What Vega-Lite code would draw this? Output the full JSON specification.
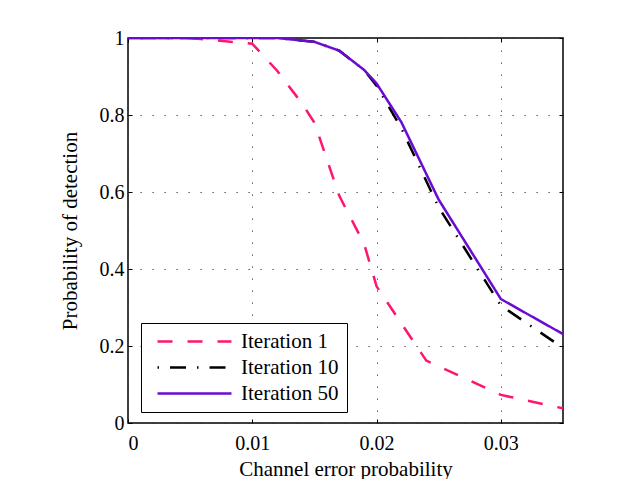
{
  "$schema": "https://vega.github.io/schema/vega-lite/v6.json",
  "autosize": {"type": "none"},
  "padding": {"left": 128, "top": 38, "right": 67, "bottom": 56},
  "width": 435,
  "height": 385,
  "background": "white",
  "config": {
    "font": "Liberation Serif, Times New Roman, serif",
    "view": {"stroke": "black", "strokeWidth": 1.5},
    "axis": {
      "labelFont": "Liberation Serif, Times New Roman, serif",
      "titleFont": "Liberation Serif, Times New Roman, serif",
      "labelFontSize": 20,
      "titleFontSize": 21,
      "titleFontWeight": "normal",
      "labelColor": "black",
      "titleColor": "black",
      "domain": false,
      "tickColor": "black",
      "tickWidth": 1,
      "tickSize": -4,
      "gridColor": "#333333",
      "gridDash": [1.2, 10.8],
      "gridWidth": 1,
      "gridOpacity": 1
    },
    "legend": {
      "labelFont": "Liberation Serif, Times New Roman, serif",
      "labelFontSize": 21,
      "labelColor": "black"
    }
  },
  "data": {
    "values": [
      {"p": 0, "pd": 1, "series": "Iteration 1"},
      {"p": 0.005, "pd": 1, "series": "Iteration 1"},
      {"p": 0.01, "pd": 0.985, "series": "Iteration 1"},
      {"p": 0.012, "pd": 0.915, "series": "Iteration 1"},
      {"p": 0.014, "pd": 0.83, "series": "Iteration 1"},
      {"p": 0.015, "pd": 0.78, "series": "Iteration 1"},
      {"p": 0.017, "pd": 0.59, "series": "Iteration 1"},
      {"p": 0.019, "pd": 0.465, "series": "Iteration 1"},
      {"p": 0.02, "pd": 0.355, "series": "Iteration 1"},
      {"p": 0.024, "pd": 0.162, "series": "Iteration 1"},
      {"p": 0.03, "pd": 0.073, "series": "Iteration 1"},
      {"p": 0.035, "pd": 0.038, "series": "Iteration 1"},
      {"p": 0, "pd": 1, "series": "Iteration 10"},
      {"p": 0.005, "pd": 1, "series": "Iteration 10"},
      {"p": 0.01, "pd": 1, "series": "Iteration 10"},
      {"p": 0.012, "pd": 1, "series": "Iteration 10"},
      {"p": 0.015, "pd": 0.99, "series": "Iteration 10"},
      {"p": 0.017, "pd": 0.967, "series": "Iteration 10"},
      {"p": 0.019, "pd": 0.917, "series": "Iteration 10"},
      {"p": 0.02, "pd": 0.876, "series": "Iteration 10"},
      {"p": 0.022, "pd": 0.765, "series": "Iteration 10"},
      {"p": 0.025, "pd": 0.56, "series": "Iteration 10"},
      {"p": 0.03, "pd": 0.305, "series": "Iteration 10"},
      {"p": 0.035, "pd": 0.195, "series": "Iteration 10"},
      {"p": 0, "pd": 1, "series": "Iteration 50"},
      {"p": 0.005, "pd": 1, "series": "Iteration 50"},
      {"p": 0.01, "pd": 1, "series": "Iteration 50"},
      {"p": 0.012, "pd": 1, "series": "Iteration 50"},
      {"p": 0.015, "pd": 0.99, "series": "Iteration 50"},
      {"p": 0.017, "pd": 0.967, "series": "Iteration 50"},
      {"p": 0.019, "pd": 0.917, "series": "Iteration 50"},
      {"p": 0.02, "pd": 0.882, "series": "Iteration 50"},
      {"p": 0.022, "pd": 0.781, "series": "Iteration 50"},
      {"p": 0.025, "pd": 0.58, "series": "Iteration 50"},
      {"p": 0.03, "pd": 0.322, "series": "Iteration 50"},
      {"p": 0.035, "pd": 0.231, "series": "Iteration 50"}
    ]
  },
  "layer": [
    {
      "mark": {"type": "line", "strokeWidth": 2.5, "clip": true},
      "encoding": {
        "x": {
          "field": "p", "type": "quantitative",
          "scale": {"domain": [0, 0.035], "nice": false, "zero": false},
          "axis": {
            "title": "Channel error probability",
            "values": [0, 0.01, 0.02, 0.03],
            "format": "~g",
            "labelPadding": 14,
            "titlePadding": 5,
            "grid": true
          }
        },
        "y": {
          "field": "pd", "type": "quantitative",
          "scale": {"domain": [0, 1], "nice": false},
          "axis": {
            "title": "Probability of detection",
            "values": [0, 0.2, 0.4, 0.6, 0.8, 1],
            "format": "~g",
            "labelPadding": 8,
            "titlePadding": 19,
            "grid": true
          }
        },
        "color": {
          "field": "series", "type": "nominal",
          "scale": {
            "domain": ["Iteration 1", "Iteration 10", "Iteration 50"],
            "range": ["#ff1472", "#000000", "#6a0ad2"]
          },
          "legend": {
            "title": null,
            "orient": "none",
            "legendX": 13,
            "legendY": 285,
            "direction": "vertical",
            "strokeColor": "black",
            "fillColor": "white",
            "padding": 8,
            "symbolOffset": 35,
            "symbolType": "M-4,0H4",
            "symbolSize": 342,
            "symbolStrokeWidth": 2.5,
            "labelOffset": 36,
            "rowPadding": 4
          }
        },
        "strokeDash": {
          "field": "series", "type": "nominal",
          "scale": {
            "domain": ["Iteration 1", "Iteration 10", "Iteration 50"],
            "range": [[15, 15], [1.5, 11, 16, 11], [1, 0]]
          },
          "legend": {
            "title": null,
            "orient": "none",
            "legendX": 13,
            "legendY": 285,
            "direction": "vertical",
            "strokeColor": "black",
            "fillColor": "white",
            "padding": 8,
            "symbolOffset": 35,
            "symbolType": "M-4,0H4",
            "symbolSize": 342,
            "symbolStrokeWidth": 2.5,
            "labelOffset": 36,
            "rowPadding": 4
          }
        }
      }
    },
    {
      "mark": {"type": "line", "opacity": 0},
      "encoding": {
        "x": {
          "field": "p", "type": "quantitative",
          "scale": {"domain": [0, 0.035], "nice": false, "zero": false},
          "axis": {"orient": "top", "values": [0, 0.01, 0.02, 0.03], "labels": false, "title": null, "grid": false}
        },
        "y": {
          "field": "pd", "type": "quantitative",
          "scale": {"domain": [0, 1], "nice": false},
          "axis": {"orient": "right", "values": [0, 0.2, 0.4, 0.6, 0.8, 1], "labels": false, "title": null, "grid": false}
        },
        "detail": {"field": "series", "type": "nominal"}
      }
    }
  ],
  "resolve": {"axis": {"x": "independent", "y": "independent"}}
}
